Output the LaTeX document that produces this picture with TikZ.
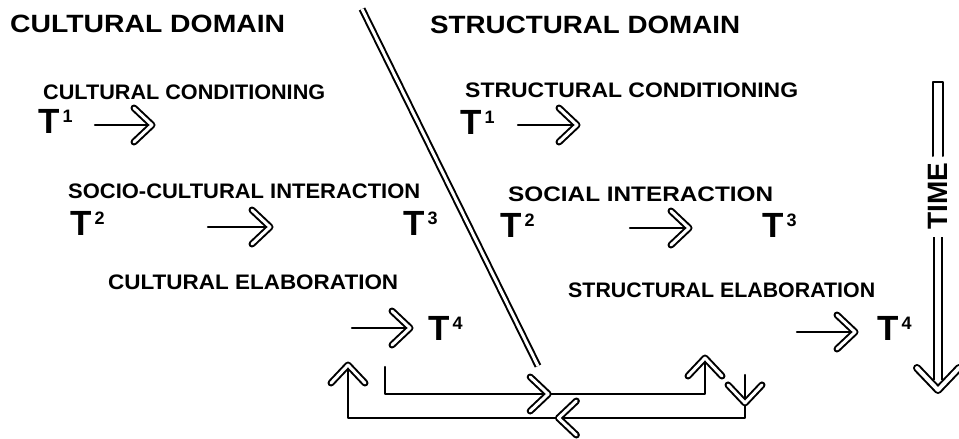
\documentclass[tikz,border=0pt]{standalone}
\usepackage{fontspec}
\setmainfont{Liberation Sans}
\usepackage{graphicx}
\usetikzlibrary{arrows.meta}
\newcommand\fitw[2]{\resizebox{#1}{\height}{#2}}
\newcommand\Tsup[1]{{\fontsize{35}{35}\selectfont T}\hspace{3pt}\raisebox{11pt}{\fontsize{18}{18}\selectfont #1}}
\begin{document}
\begin{tikzpicture}[x=1pt,y=-1pt,line cap=round,line join=round]
\tikzset{
  head/.style={anchor=west,inner sep=0pt,font=\fontsize{25}{25}\selectfont\bfseries},
  lbl/.style={anchor=west,inner sep=0pt,font=\fontsize{21}{21}\selectfont\bfseries},
  tnode/.style={anchor=west,inner sep=0pt,font=\bfseries},
  conn/.style={line width=2.4pt},
  chev/.pic={\draw[line width=2pt,double=white,double distance=3pt] (-18,-17) -- (0,0) -- (-18,17);},
  bigchev/.pic={\draw[line width=2pt,double=white,double distance=4pt] (-22,-21) -- (0,0) -- (-22,21);},
  tip/.style={sloped,allow upside down},
}
\fill[white] (0,0) rectangle (959,439);
\useasboundingbox (0,0) rectangle (959,439);

% headings
\node[head] (cdom) at (10,24) {\fitw{275pt}{CULTURAL DOMAIN}};
\node[head] (sdom) at (430,25) {\fitw{310pt}{STRUCTURAL DOMAIN}};

% divider
\coordinate (divtop) at (362,9);
\coordinate (divbot) at (538,366);
\draw[line width=2pt,double=white,double distance=3pt,line cap=butt] (divtop) -- (divbot);

% labels
\node[lbl] (ccond) at (43,92.5) {\fitw{282pt}{CULTURAL CONDITIONING}};
\node[lbl] (scond) at (465,90) {\fitw{333pt}{STRUCTURAL CONDITIONING}};
\node[lbl] (scint) at (68,191) {\fitw{352pt}{SOCIO-CULTURAL INTERACTION}};
\node[lbl] (sint) at (508,194) {\fitw{265pt}{SOCIAL INTERACTION}};
\node[lbl] (celab) at (108,282) {\fitw{290pt}{CULTURAL ELABORATION}};
\node[lbl] (selab) at (568,290) {\fitw{307pt}{STRUCTURAL ELABORATION}};

% T nodes
\node[tnode] (lT1) at (38,121) {\Tsup{1}};
\node[tnode] (rT1) at (460,122) {\Tsup{1}};
\node[tnode] (lT2) at (70,223) {\Tsup{2}};
\node[tnode] (lT3) at (403,223) {\Tsup{3}};
\node[tnode] (rT2) at (500,225) {\Tsup{2}};
\node[tnode] (rT3) at (762,225) {\Tsup{3}};
\node[tnode] (lT4) at (428,328) {\Tsup{4}};
\node[tnode] (rT4) at (877,328) {\Tsup{4}};

% arrows
\coordinate (a1s) at (95,125);  \coordinate (a1e) at (152,125);
\coordinate (a2s) at (518,125); \coordinate (a2e) at (577,125);
\coordinate (a3s) at (208,227); \coordinate (a3e) at (270,227);
\coordinate (a4s) at (630,228); \coordinate (a4e) at (689,228);
\coordinate (a5s) at (352,328); \coordinate (a5e) at (410,328);
\coordinate (a6s) at (797,332); \coordinate (a6e) at (855,332);
\foreach \s/\e in {a1s/a1e,a2s/a2e,a3s/a3e,a4s/a4e,a5s/a5e,a6s/a6e}
  \draw[conn] (\s) -- (\e) pic[pos=1,tip]{chev};

% feedback loops
\coordinate (L1a) at (385,367);
\coordinate (L1b) at (385,394);
\coordinate (L1c) at (705,394);
\coordinate (L1d) at (705,358);
\draw[conn] (L1a) -- (L1b) -- (L1c) pic[pos=0.51,tip]{chev} -- (L1d) pic[pos=1,tip]{chev};

\coordinate (L2a) at (745,375);
\coordinate (L2b) at (745,418);
\coordinate (L2c) at (348,418);
\coordinate (L2d) at (348,365);
\draw[conn] (L2a) -- (L2b) pic[pos=0.65,tip]{chev} -- (L2c) pic[pos=0.47,tip]{chev} -- (L2d) pic[pos=1,tip]{chev};

% time arrow
\node[inner sep=0pt,rotate=90,font=\fontsize{28}{28}\selectfont\bfseries] (time) at (938,196) {TIME};
\coordinate (tul) at (933,156);
\coordinate (tur) at (943,156);
\coordinate (tt1) at (933,82);
\coordinate (tt2) at (943,82);
\draw[line width=2pt] (tul) -- (tt1) -- (tt2) -- (tur);
\coordinate (tls) at (938,237);
\coordinate (tlm) at (938,380);
\coordinate (tle) at (938,390);
\draw[line width=2pt,double=white,double distance=6pt,line cap=butt] (tls) -- (tlm);
\path (tls) -- (tle) pic[pos=1,tip]{bigchev};
\end{tikzpicture}
\end{document}
